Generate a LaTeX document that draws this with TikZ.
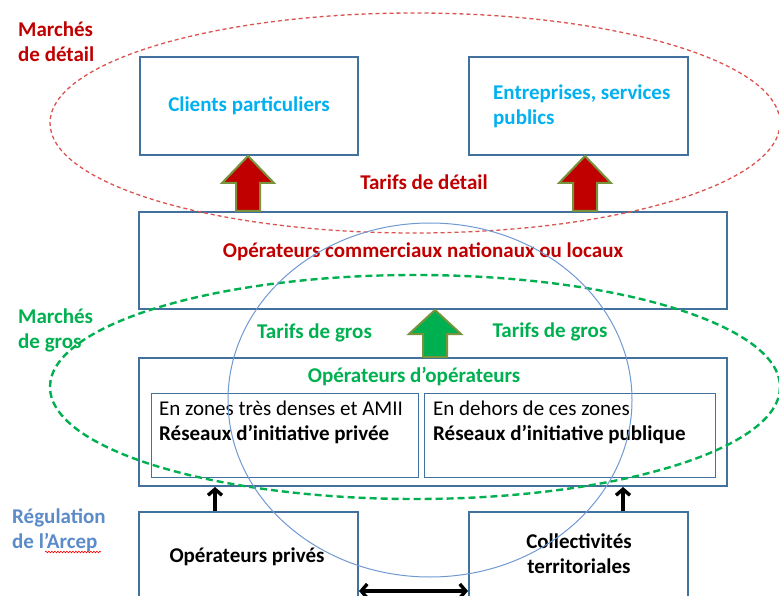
\documentclass[tikz,border=0pt]{standalone}
\usepackage{fontspec}
\setmainfont{Carlito}
\usetikzlibrary{arrows.meta,calc,decorations.pathmorphing}
\definecolor{dred}{HTML}{C00000}
\definecolor{dgreen}{HTML}{00B050}
\definecolor{lblue}{HTML}{00B0F0}
\definecolor{boxc}{HTML}{41719C}
\definecolor{regc}{HTML}{5B8BC9}
\definecolor{circc}{HTML}{7099D2}
\definecolor{redash}{HTML}{D9534F}
\definecolor{olivec}{HTML}{77933C}
\newcommand\blockarr[4]{% #1 bottom, #2 top, #3 style, #4 head length
  \draw[#3] let \p1=(#1), \p2=(#2) in
   (\x1-12pt,\y1) -- (\x1-12pt,\y2-#4) -- (\x1-26pt,\y2-#4) -- (\x1,\y2)
   -- (\x1+26pt,\y2-#4) -- (\x1+12pt,\y2-#4) -- (\x1+12pt,\y1) -- cycle;}
\begin{document}
\begin{tikzpicture}[x=1pt,y=-1pt,
  box/.style={draw=boxc, line width=2pt, inner sep=0pt},
  ibox/.style={draw=boxc, line width=1pt, inner sep=0pt},
  txt/.style={font=\fontsize{21}{25}\selectfont, inner sep=0pt},
  btxt/.style={font=\fontsize{21}{25}\selectfont\bfseries, inner sep=0pt},
  redarr/.style={fill=dred, draw=olivec, line width=2pt},
  greenarr/.style={fill=dgreen, draw=olivec, line width=2pt},
  blk/.style={line width=3.4pt, -{Straight Barb[length=6pt,width=14pt]}},
  dblk/.style={line width=3.4pt, {Straight Barb[length=6pt,width=14pt]}-{Straight Barb[length=6pt,width=14pt]}}
]
\useasboundingbox (0,0) rectangle (779,596);
\clip (0,0) rectangle (779,596);
% boxes
\node[box, minimum width=218, minimum height=98, btxt, text=lblue] (cp) at (249,106) {Clients particuliers};
\node[box, minimum width=219, minimum height=98] (ent) at (578.5,106) {};
\node[box, minimum width=588, minimum height=97] (oc) at (433,260.5) {};
\node[box, minimum width=588, minimum height=128] (opop) at (433,422) {};
\node[ibox, minimum width=267, minimum height=84] (in1) at (284.5,435) {};
\node[ibox, minimum width=291, minimum height=84] (in2) at (569.5,435) {};
\node[box, minimum width=219, minimum height=98] (priv) at (248.5,561) {};
\node[box, minimum width=219, minimum height=98] (coll) at (578.5,561) {};
% texts
\node[btxt, text=lblue, align=left, anchor=base west] (entt) at (493,124.5) {Entreprises, services\\publics};
\node[btxt, text=dred, align=left, anchor=base west] (md) at (18,61.5) {Marchés\\de détail};
\node[btxt, text=dred, anchor=base] (td) at (424,189.5) {Tarifs de détail};
\node[btxt, text=dred, anchor=base] (oct) at (423,257.5) {Opérateurs commerciaux nationaux ou locaux};
\node[btxt, text=dgreen, align=left, anchor=base west] (mg) at (18,348.5) {Marchés\\de gros};
\node[btxt, text=dgreen, anchor=base] (tg1) at (314.5,338) {Tarifs de gros};
\node[btxt, text=dgreen, anchor=base] (tg2) at (550,337) {Tarifs de gros};
\node[btxt, text=dgreen, anchor=base] (oot) at (414,382) {Opérateurs d’opérateurs};
\node[txt, align=left, anchor=base west] (in1t) at (159,440) {En zones très denses et AMII\\\textbf{Réseaux d’initiative privée}};
\node[txt, align=left, anchor=base west] (in2t) at (433,440) {En dehors de ces zones\\\textbf{Réseaux d’initiative publique}};
\node[btxt, text=regc, align=left, anchor=base west] (reg) at (12,548.5) {Régulation\\de l’Arcep};
\node[btxt, anchor=base] (privt) at (247,562) {Opérateurs privés};
\node[btxt, align=center, anchor=base] (collt) at (579,573.5) {Collectivités\\territoriales};
\draw[red, line width=0.6pt, decorate, decoration={snake, amplitude=0.8pt, segment length=3pt}] (45,552) -- (101,552);
% block arrows
\coordinate (ra1) at (248,0);
\coordinate (ra2) at (585,0);
\coordinate (ga) at (435,0);
\blockarr{oc.north -| ra1}{cp.south -| ra1}{redarr}{27pt}
\blockarr{oc.north -| ra2}{ent.south -| ra2}{redarr}{27pt}
\blockarr{opop.north -| ga}{oc.south -| ga}{greenarr}{24pt}
% black arrows
\coordinate (ba1) at (215,0);
\coordinate (ba2) at (623,0);
\coordinate (by) at (0,591);
\draw[blk] (priv.north -| ba1) -- (opop.south -| ba1);
\draw[blk] (coll.north -| ba2) -- (opop.south -| ba2);
\draw[dblk] (priv.east |- by) -- (coll.west |- by);
% ellipses
\draw[redash, line width=1.3pt, dash pattern=on 4pt off 3pt] (415,123) ellipse [x radius=365, y radius=110];
\draw[dgreen, line width=2.4pt, dash pattern=on 7pt off 4pt] (415,387) ellipse [x radius=365, y radius=112];
\draw[circc, line width=1pt] (430,400) ellipse [x radius=202, y radius=177];
\end{tikzpicture}
\end{document}
